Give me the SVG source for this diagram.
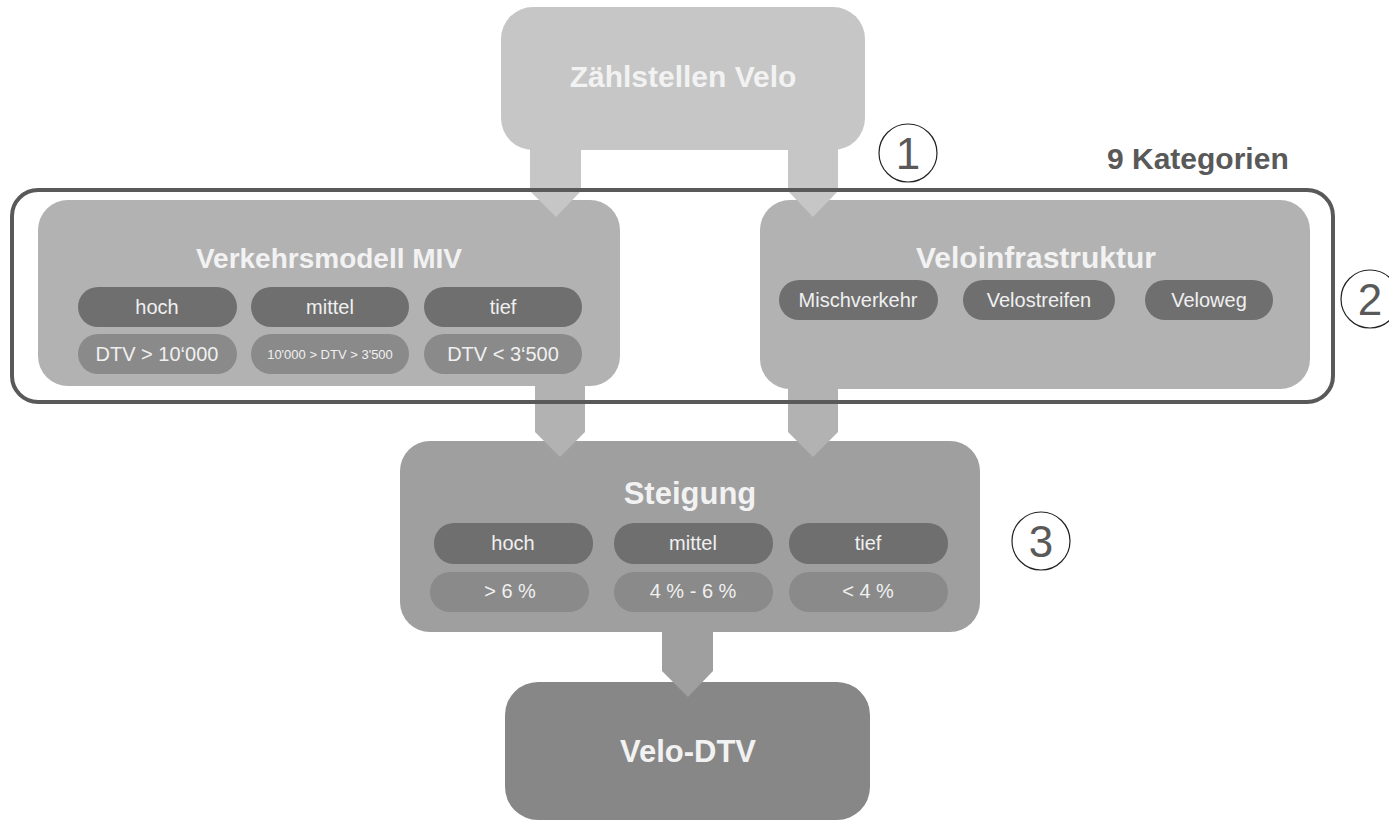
<svg xmlns="http://www.w3.org/2000/svg" width="1389" height="821" viewBox="0 0 1389 821">
<style>
.t{font-family:"Liberation Sans",Arial,sans-serif;font-weight:bold;font-size:30px;fill:#f2f2f2;text-anchor:middle}
.p{font-family:"Liberation Sans",Arial,sans-serif;font-size:20px;fill:#f0f0f0;text-anchor:middle}
.dk{fill:#6f6f6f}
.md{fill:#8a8a8a}
.num{font-family:"Liberation Sans",Arial,sans-serif;font-size:44px;fill:#595959;text-anchor:middle}
.circ{fill:none;stroke:#222;stroke-width:1.2}
</style>
<rect width="1389" height="821" fill="#ffffff"/>
<g id="n-zaehlstellen">
<rect x="501" y="7" width="364" height="143" rx="32" fill="#c6c6c6"/>
<text class="t" x="683" y="87">Zählstellen Velo</text>
</g>
<g id="n-miv">
<rect x="38" y="200" width="582" height="186" rx="30" fill="#b2b2b2"/>
<text class="t" x="329" y="268" style="font-size:28px">Verkehrsmodell MIV</text>
<rect class="dk" x="78" y="287" width="159" height="40" rx="20"/>
<rect class="dk" x="251" y="287" width="158" height="40" rx="20"/>
<rect class="dk" x="424" y="287" width="158" height="40" rx="20"/>
<text class="p" x="157" y="314">hoch</text>
<text class="p" x="330" y="314">mittel</text>
<text class="p" x="503" y="314">tief</text>
<rect class="md" x="78" y="334" width="159" height="40" rx="20"/>
<rect class="md" x="251" y="334" width="158" height="40" rx="20"/>
<rect class="md" x="424" y="334" width="158" height="40" rx="20"/>
<text class="p" x="157" y="361">DTV &gt; 10‘000</text>
<text class="p" x="330" y="359" style="font-size:13px">10'000 &gt; DTV &gt; 3'500</text>
<text class="p" x="503" y="361">DTV &lt; 3‘500</text>
</g>
<g id="n-veloinfra">
<rect x="760" y="200" width="550" height="189" rx="30" fill="#b2b2b2"/>
<text class="t" x="1036" y="268">Veloinfrastruktur</text>
<rect class="dk" x="779" y="280" width="159" height="40" rx="20"/>
<rect class="dk" x="963" y="280" width="152" height="40" rx="20"/>
<rect class="dk" x="1145" y="280" width="128" height="40" rx="20"/>
<text class="p" x="858" y="307">Mischverkehr</text>
<text class="p" x="1039" y="307">Velostreifen</text>
<text class="p" x="1209" y="307">Veloweg</text>
</g>
<g id="n-steigung">
<rect x="400" y="441" width="580" height="191" rx="30" fill="#9f9f9f"/>
<text class="t" x="690" y="504" style="font-size:31px">Steigung</text>
<rect class="dk" x="434" y="523" width="159" height="41" rx="20"/>
<rect class="dk" x="614" y="523" width="159" height="41" rx="20"/>
<rect class="dk" x="789" y="523" width="159" height="41" rx="20"/>
<text class="p" x="513" y="550">hoch</text>
<text class="p" x="693" y="550">mittel</text>
<text class="p" x="868" y="550">tief</text>
<rect class="md" x="430" y="572" width="159" height="40" rx="20"/>
<rect class="md" x="614" y="572" width="159" height="40" rx="20"/>
<rect class="md" x="789" y="572" width="159" height="40" rx="20"/>
<text class="p" x="510" y="598">&gt; 6 %</text>
<text class="p" x="693" y="598">4 % - 6 %</text>
<text class="p" x="868" y="598">&lt; 4 %</text>
</g>
<g id="n-velodtv">
<rect x="505" y="682" width="365" height="138" rx="33" fill="#878787"/>
<text class="t" x="688" y="762" style="font-size:31px">Velo-DTV</text>
</g>
<g id="connectors">
<polygon points="530,145 581,145 581,191 556,217 530,191" fill="#c6c6c6"/>
<polygon points="788,145 838,145 838,191 813,217 788,191" fill="#c6c6c6"/>
<polygon points="535,383 585,383 585,432 560,457 535,432" fill="#b2b2b2"/>
<polygon points="788,386 838,386 838,432 813,457 788,432" fill="#b2b2b2"/>
<polygon points="662,628 713,628 713,671 688,697 662,671" fill="#9f9f9f"/>
</g>
<g id="group-9-kategorien">
<rect x="12" y="190" width="1321" height="212" rx="26" fill="none" stroke="#595959" stroke-width="4"/>
<text x="1107" y="169" style="font-family:'Liberation Sans',Arial,sans-serif;font-weight:bold;font-size:30px;fill:#595959">9 Kategorien</text>
</g>
<g id="step-1">
<circle class="circ" cx="908" cy="153" r="29"/>
<text class="num" x="908" y="169">1</text>
</g>
<g id="step-2">
<circle class="circ" cx="1370" cy="299" r="29"/>
<text class="num" x="1370" y="315">2</text>
</g>
<g id="step-3">
<circle class="circ" cx="1041" cy="541" r="29"/>
<text class="num" x="1041" y="557">3</text>
</g>
</svg>
